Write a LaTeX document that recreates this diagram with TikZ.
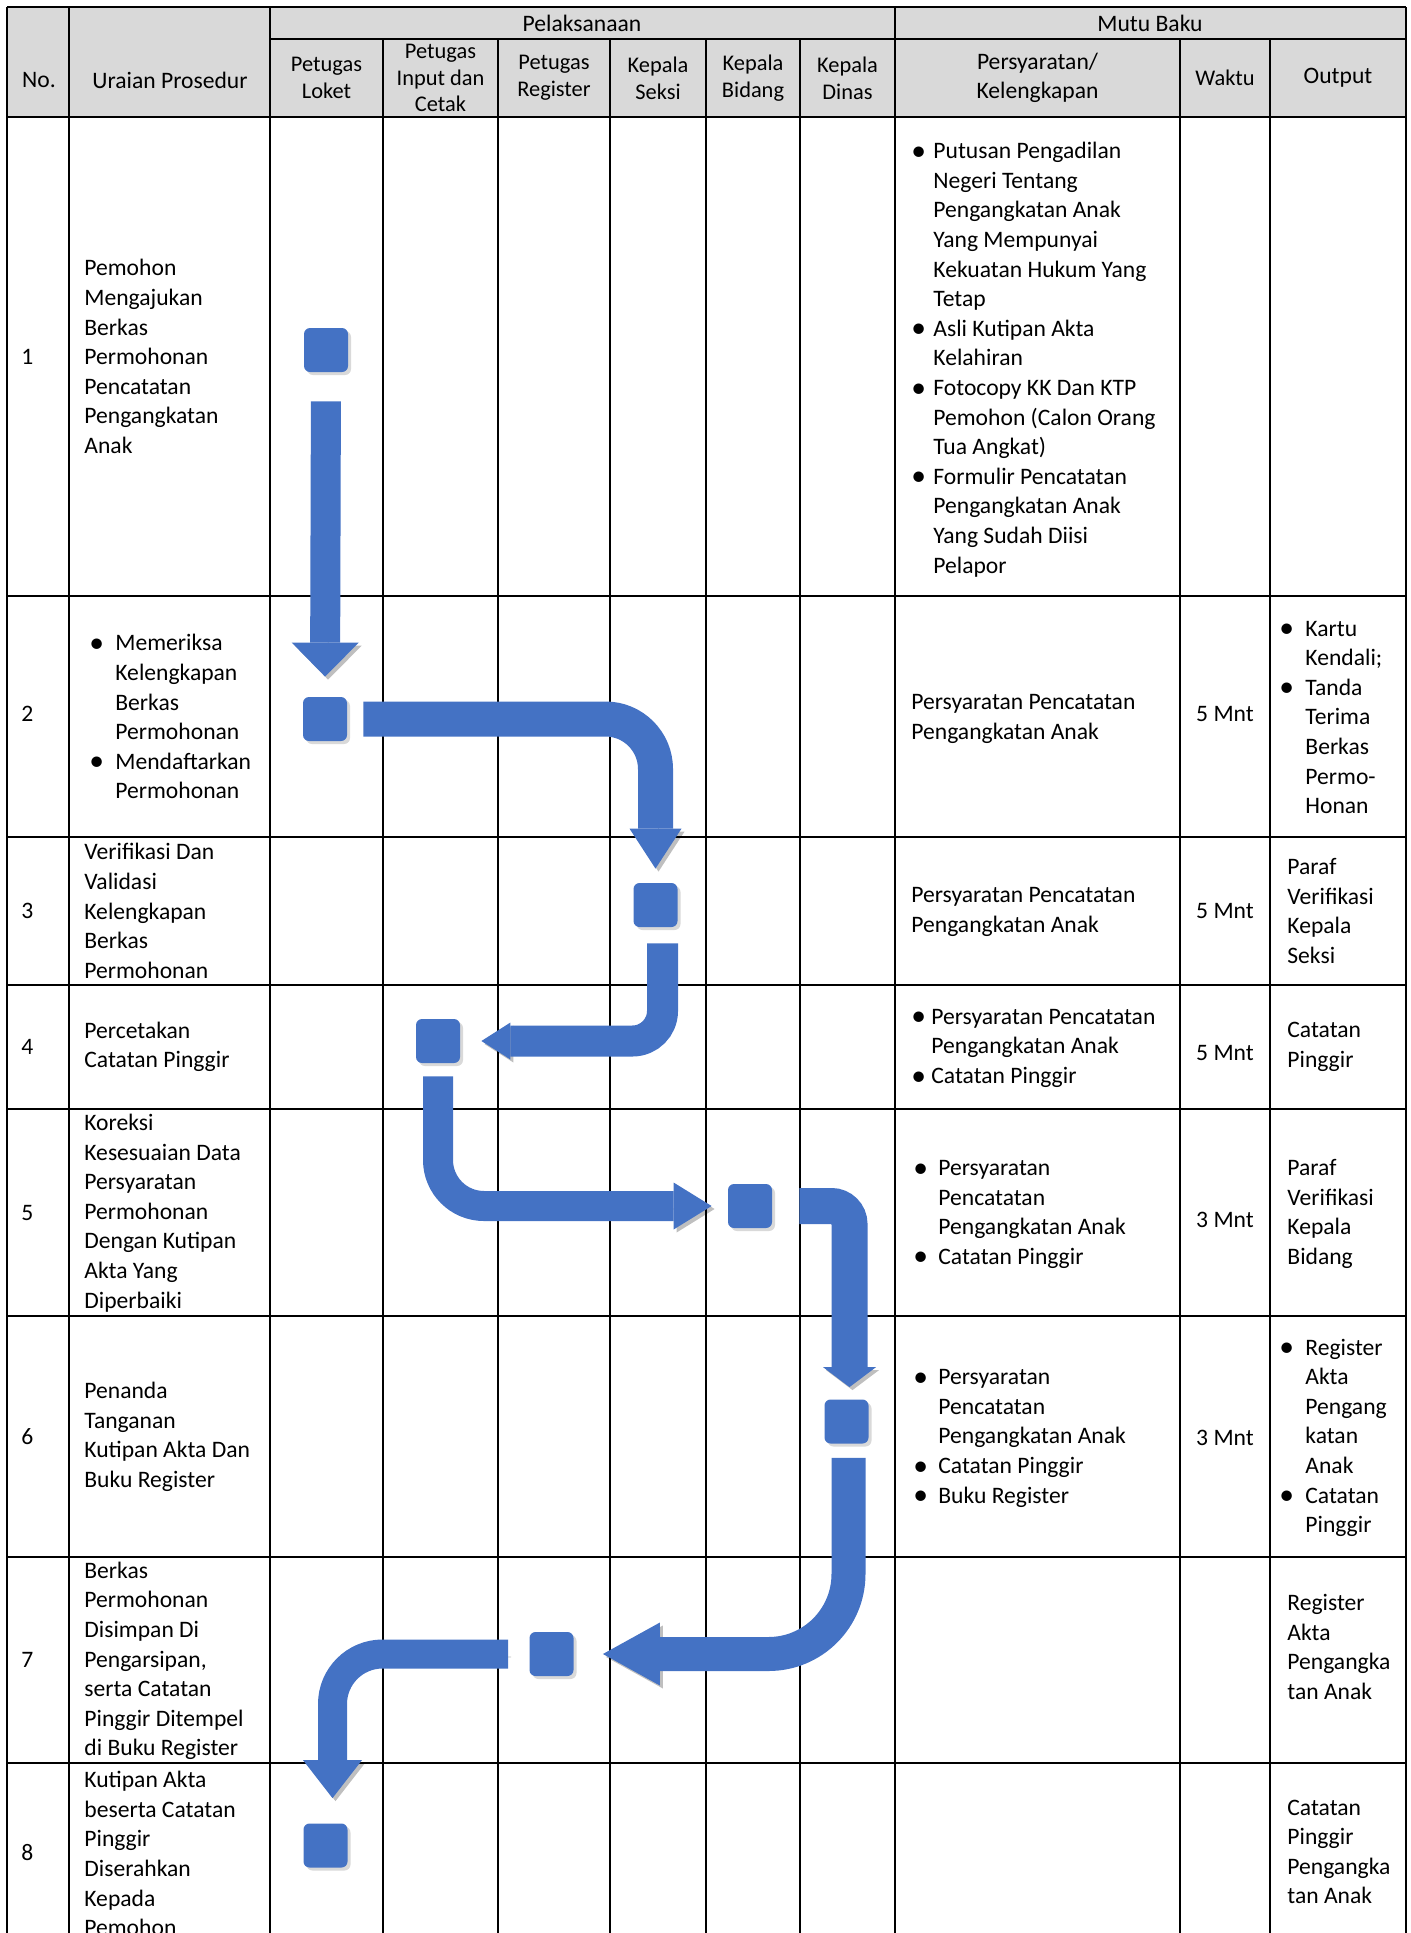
\documentclass[tikz,border=0pt]{standalone}
\usepackage{fontspec}
\setmainfont{Carlito}
\usetikzlibrary{arrows.meta,shadows,positioning}

\definecolor{flowblue}{HTML}{4472C4}
\definecolor{headgray}{HTML}{D9D9D9}

\newcommand{\bul}{\raisebox{-0.07em}{\scalebox{1.25}{\textbullet}}}
\newcommand{\blist}[2]{\begin{tabular}{@{}p{#1}@{}l@{}}#2\end{tabular}}

\tikzset{
  tableline/.style={line width=0.9pt},
  rowline/.style={line width=1.2pt},
  cell/.style={inner sep=0pt, anchor=west, align=left, font=\fontsize{11.8}{14.8}\selectfont},
  headcell/.style={inner sep=0pt, align=center, font=\fontsize{11.8}{14.8}\selectfont},
  subhead/.style={inner sep=0pt, align=center, font=\fontsize{11.2}{13.4}\selectfont},
  timecell/.style={inner sep=0pt, font=\fontsize{11.8}{14.8}\selectfont},
  stepmark/.style={fill=flowblue, rounded corners=3pt, minimum size=22pt, inner sep=0pt,
    drop shadow={shadow xshift=1.5pt, shadow yshift=-1.5pt, opacity=.3}},
  flowarrow/.style n args={3}{draw=flowblue, line width=#1,
    -{Triangle[width=#2, length=#3, line width=0pt]},
    preaction={draw=black, opacity=.25, transform canvas={shift={(1.5pt,-1.5pt)}}}}
}

\begin{document}
\begin{tikzpicture}[x=0.5pt,y=-0.5pt]
\useasboundingbox (0,0) rectangle (1410,1933);
\clip (0,0) rectangle (1410,1933);

% table
\fill[headgray] (7,7) rectangle (1406,117);
\foreach \x in {7,69,270,895,1406}
  \draw[tableline] (\x,7) -- (\x,1950);
\foreach \x in {383,498,610,706,800,1180,1270}
  \draw[tableline] (\x,39) -- (\x,1950);
\draw[tableline] (270,39) -- (1406,39);
\foreach \y in {7,117,596,837,985,1109,1316,1557,1763}
  \draw[rowline] (7,\y) -- (1406,\y);

% header
\node[headcell] (hno) at (39,80) {No.};
\node[headcell] (hur) at (170,80) {Uraian Prosedur};
\node[headcell] (hpel) at (582,23) {Pelaksanaan};
\node[headcell] (hmutu) at (1150,23) {Mutu Baku};
\node[subhead] (hlok) at (326.5,78) {Petugas\\Loket};
\node[subhead] (hinp) at (440.5,78) {Petugas\\Input dan\\Cetak};
\node[subhead] (hreg) at (554,78) {Petugas\\Register};
\node[subhead] (hsek) at (658,78) {Kepala\\Seksi};
\node[subhead] (hbid) at (753,78) {Kepala\\Bidang};
\node[subhead] (hdin) at (847.5,78) {Kepala\\Dinas};
\node[headcell] (hsy) at (1037.5,78) {Persyaratan/\\Kelengkapan};
\node[subhead] (hwk) at (1225,78) {Waktu};
\node[headcell] (hout) at (1338,78) {Output};

% row 1
\node[cell] (no1) at (21,356.5) {1};
\node[cell] (ur1) at (84,356.5) {Pemohon\\Mengajukan\\Berkas\\Permohonan\\Pencatatan\\Pengangkatan\\Anak};
\node[cell] (sy1) at (911,360) {\blist{11pt}{\bul & Putusan Pengadilan\\ & Negeri Tentang\\ & Pengangkatan Anak\\ & Yang Mempunyai\\ & Kekuatan Hukum Yang\\ & Tetap\\ \bul & Asli Kutipan Akta\\ & Kelahiran\\ \bul & Fotocopy KK Dan KTP\\ & Pemohon (Calon Orang\\ & Tua Angkat)\\ \bul & Formulir Pencatatan\\ & Pengangkatan Anak\\ & Yang Sudah Diisi\\ & Pelapor}};

% row 2
\node[cell] (no2) at (21,714) {2};
\node[cell] (ur2) at (89,719) {\blist{13pt}{\bul & Memeriksa\\ & Kelengkapan\\ & Berkas\\ & Permohonan\\ \bul & Mendaftarkan\\ & Permohonan}};
\node[cell] (sy2) at (911,719) {Persyaratan Pencatatan\\Pengangkatan Anak};
\node[timecell] (wk2) at (1225,714) {5 Mnt};
\node[cell] (out2) at (1279,719) {\blist{13pt}{\bul & Kartu\\ & Kendali;\\ \bul & Tanda\\ & Terima\\ & Berkas\\ & Permo-\\ & Honan}};

% row 3
\node[cell] (no3) at (21,911) {3};
\node[cell] (ur3) at (84,911) {Verifikasi Dan\\Validasi\\Kelengkapan\\Berkas\\Permohonan};
\node[cell] (sy3) at (911,912) {Persyaratan Pencatatan\\Pengangkatan Anak};
\node[timecell] (wk3) at (1225,911) {5 Mnt};
\node[cell] (out3) at (1287,911) {Paraf\\Verifikasi\\Kepala\\Seksi};

% row 4
\node[cell] (no4) at (21,1047) {4};
\node[cell] (ur4) at (84,1047) {Percetakan\\Catatan Pinggir};
\node[cell] (sy4) at (911,1048) {\blist{10pt}{\bul & Persyaratan Pencatatan\\ & Pengangkatan Anak\\ \bul & Catatan Pinggir}};
\node[timecell] (wk4) at (1225,1053) {5 Mnt};
\node[cell] (out4) at (1287,1047) {Catatan\\Pinggir};

% row 5
\node[cell] (no5) at (21,1212.5) {5};
\node[cell] (ur5) at (84,1213) {Koreksi\\Kesesuaian Data\\Persyaratan\\Permohonan\\Dengan Kutipan\\Akta Yang\\Diperbaiki};
\node[cell] (sy5) at (913,1214) {\blist{12.5pt}{\bul & Persyaratan\\ & Pencatatan\\ & Pengangkatan Anak\\ \bul & Catatan Pinggir}};
\node[timecell] (wk5) at (1225,1220) {3 Mnt};
\node[cell] (out5) at (1287,1214) {Paraf\\Verifikasi\\Kepala\\Bidang};

% row 6
\node[cell] (no6) at (21,1437) {6};
\node[cell] (ur6) at (84,1437) {Penanda\\Tanganan\\Kutipan Akta Dan\\Buku Register};
\node[cell] (sy6) at (913,1438) {\blist{12.5pt}{\bul & Persyaratan\\ & Pencatatan\\ & Pengangkatan Anak\\ \bul & Catatan Pinggir\\ \bul & Buku Register}};
\node[timecell] (wk6) at (1225,1438) {3 Mnt};
\node[cell] (out6) at (1279,1438) {\blist{13pt}{\bul & Register\\ & Akta\\ & Pengang\\ & katan\\ & Anak\\ \bul & Catatan\\ & Pinggir}};

% row 7
\node[cell] (no7) at (21,1660) {7};
\node[cell] (ur7) at (84,1661) {Berkas\\Permohonan\\Disimpan Di\\Pengarsipan,\\serta Catatan\\Pinggir Ditempel\\di Buku Register};
\node[cell] (out7) at (1287,1647) {Register\\Akta\\Pengangka\\tan Anak};

% row 8
\node[cell] (no8) at (21,1853) {8};
\node[cell] (ur8) at (84,1853.5) {Kutipan Akta\\beserta Catatan\\Pinggir\\Diserahkan\\Kepada\\Pemohon};
\node[cell] (out8) at (1287,1852) {Catatan\\Pinggir\\Pengangka\\tan Anak};

% flow marks
\node[stepmark] (b1) at (326,350) {};
\node[stepmark] (b2) at (325,719) {};
\node[stepmark] (b3) at (655.5,905) {};
\node[stepmark] (b4) at (438,1041) {};
\node[stepmark] (b5) at (750,1206) {};
\node[stepmark] (b6) at (846.5,1421.5) {};
\node[stepmark] (b7) at (551.5,1654) {};
\node[stepmark] (b8) at (325.5,1845.5) {};

% flow arrows
\draw[flowarrow={15pt}{33.5pt}{17pt}, shorten <=14.5pt, shorten >=10pt] (b1.south) -- (b2.north);
\draw[flowarrow={17.5pt}{26pt}{20pt}, rounded corners=25pt, shorten <=8pt, shorten >=7pt] (b2.east) -| (b3.north);
\draw[flowarrow={15.5pt}{18.5pt}{14.5pt}, rounded corners=15pt, shorten <=8pt, shorten >=10.5pt] ([xshift=3.5pt]b3.south) |- (b4.east);
\draw[flowarrow={15pt}{23.5pt}{19pt}, rounded corners=23pt, shorten <=6.5pt, shorten >=8pt] (b4.south) |- (b5.west);
\draw[flowarrow={18pt}{26.5pt}{10pt}, rounded corners=9pt, shorten <=13.5pt, shorten >=6pt] (b5.east) -| ([xshift=1.5pt]b6.north);
\draw[flowarrow={17pt}{31.5pt}{28.5pt}, rounded corners=40pt, shorten <=7pt, shorten >=14.5pt] ([xshift=1pt]b6.south) |- (b7.east);
\draw[flowarrow={14.5pt}{29.5pt}{19pt}, rounded corners=25pt, shorten <=10.5pt, shorten >=12.5pt] (b7.west) -| ([xshift=3.5pt]b8.north);
\end{tikzpicture}
\end{document}
